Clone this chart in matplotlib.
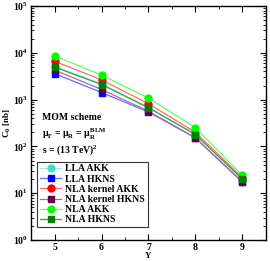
import matplotlib
matplotlib.use('Agg')
import matplotlib.pyplot as plt
import matplotlib.ticker as mtick

plt.rcParams['font.family'] = ['Liberation Serif', 'DejaVu Serif']
plt.rcParams['font.weight'] = 'bold'
plt.rcParams['mathtext.fontset'] = 'custom'
plt.rcParams['mathtext.rm'] = 'Liberation Serif:bold'
plt.rcParams['mathtext.it'] = 'Liberation Serif:bold'
plt.rcParams['mathtext.bf'] = 'Liberation Serif:bold'

# rapidity interval values
Y = [5, 6, 7, 8, 9]

# C_0 in nb
lla_akk = [5200, 2200, 690, 180, 20]
lla_hkns = [3600, 1420, 545, 152, 17.2]
nla_kernel_akk = [6600, 2650, 820, 200, 21.5]
nla_kernel_hkns = [4300, 1650, 565, 153, 17.4]
nla_akk = [8600, 3350, 1080, 250, 24]
nla_hkns = [4950, 2100, 670, 180, 20]

series = [
    ('LLA AKK', lla_akk, 'o', '#40e0d0', '#8feee4'),
    ('LLA HKNS', lla_hkns, 's', '#0000ff', '#6b6bff'),
    ('NLA kernel AKK', nla_kernel_akk, 'o', '#ff0000', '#ff6b6b'),
    ('NLA kernel HKNS', nla_kernel_hkns, 's', '#660044', '#a070a0'),
    ('NLA AKK', nla_akk, 'o', '#00ff00', '#60ff60'),
    ('NLA HKNS', nla_hkns, 's', '#008000', '#40a040'),
]

fig = plt.figure(figsize=(2.7, 2.61), dpi=100)
ax = fig.add_axes([0.115, 0.080, 0.870, 0.897])

for name, vals, mk, c, lc in series:
    ax.plot(Y, vals, color=lc, lw=0.9, marker=mk, markersize=5,
            markerfacecolor=c, markeredgecolor=c, label=name)

ax.set_yscale('log')
ax.set_ylim(1, 1e5)
ax.set_xlim(4.5, 9.5)
ax.xaxis.set_major_locator(mtick.MultipleLocator(1))
ax.xaxis.set_minor_locator(mtick.MultipleLocator(0.5))
ax.yaxis.set_minor_locator(mtick.LogLocator(base=10, subs=range(2, 10), numticks=20))
ax.yaxis.set_minor_formatter(mtick.NullFormatter())
ax.tick_params(which='both', direction='in', top=True, right=True, labelsize=7, pad=2)
ax.tick_params(which='major', length=4, width=0.8)
ax.tick_params(which='minor', length=2, width=0.6)
for s in ax.spines.values():
    s.set_linewidth(1.0)

ax.set_xlabel('Y', fontsize=6.5, fontweight='bold', labelpad=0)
ax.set_ylabel(r'C$_{0}$ [nb]', fontsize=6.5, fontweight='bold', labelpad=0)

ax.text(0.045, 0.515, 'MOM scheme', transform=ax.transAxes, fontsize=7, fontweight='bold')
ax.text(0.045, 0.44, r'$\mu_F$ = $\mu_R$ = $\mu_R^{BLM}$', transform=ax.transAxes,
        fontsize=7, fontweight='bold')
ax.text(0.045, 0.375, r's = (13 TeV)$^2$', transform=ax.transAxes, fontsize=7, fontweight='bold')

leg = ax.legend(loc='lower left', bbox_to_anchor=(0.025, 0.055), fontsize=7,
                frameon=True, fancybox=False, edgecolor='black', handlelength=2.2,
                handletextpad=0.4, labelspacing=0.12, borderpad=0.3, borderaxespad=0)
leg.get_frame().set_linewidth(0.8)

plt.savefig('out.png', dpi=100)
